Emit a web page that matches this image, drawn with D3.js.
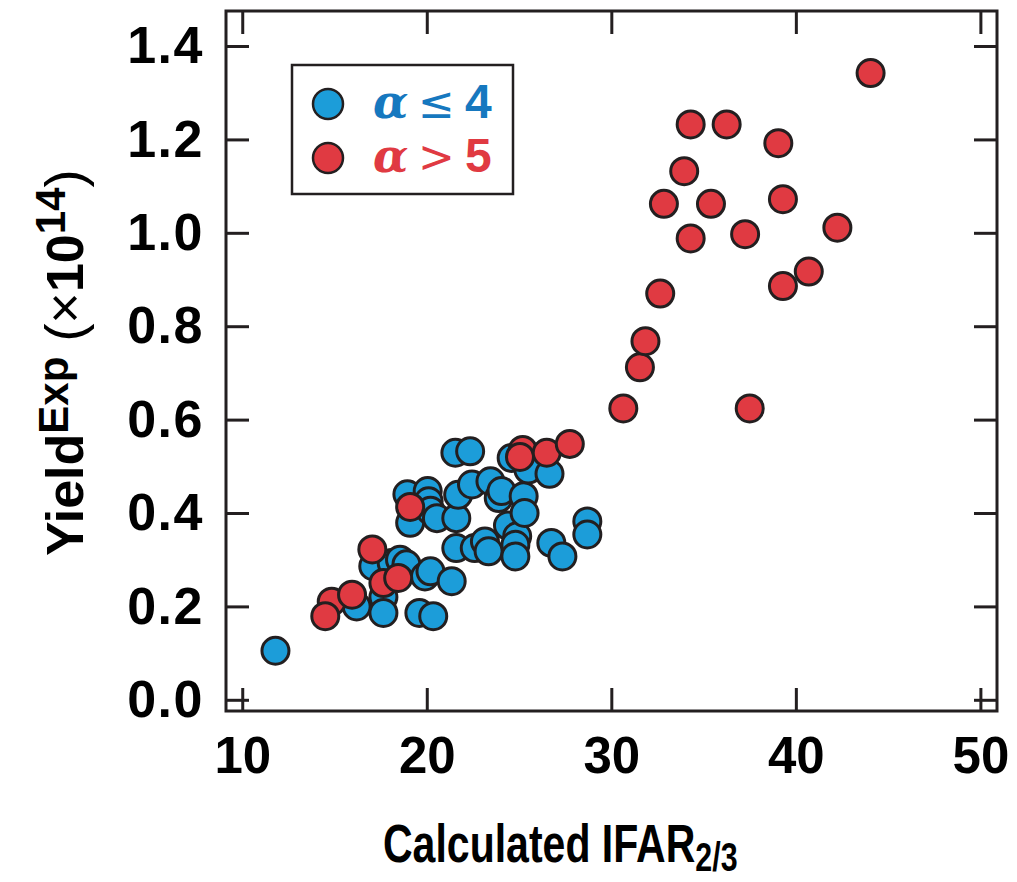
<!DOCTYPE html>
<html>
<head>
<meta charset="utf-8">
<script src="https://cdn.jsdelivr.net/npm/d3@7"></script>
<style>
  html, body { margin: 0; padding: 0; background: #fff; }
  svg { display: block; font-family: "Liberation Sans", Arial, sans-serif; }
</style>
</head>
<body>
<svg id="chart" width="1017" height="882"></svg>
<script>
// ---- data -------------------------------------------------------------
// alpha <= 4 group: [IFAR_2/3, Yield (x1e14)]
const lowAlpha = [
  [11.8, 0.105], [16.2, 0.200], [17.1, 0.286], [17.65, 0.220], [17.65, 0.186],
  [18.1, 0.293], [18.55, 0.300], [18.9, 0.290], [18.95, 0.440], [19.1, 0.379],
  [19.6, 0.186], [19.9, 0.264], [20.05, 0.447], [20.1, 0.425], [20.2, 0.275],
  [20.2, 0.405], [20.35, 0.179], [20.55, 0.389], [21.35, 0.254], [21.55, 0.529],
  [21.6, 0.389], [21.6, 0.325], [21.7, 0.439], [22.35, 0.532], [22.45, 0.461],
  [22.6, 0.325], [23.15, 0.339], [23.35, 0.318], [23.45, 0.468], [23.9, 0.432],
  [24.05, 0.447], [24.4, 0.373], [24.6, 0.518], [24.9, 0.350], [24.8, 0.332],
  [24.8, 0.307], [25.25, 0.436], [25.3, 0.400], [25.5, 0.493], [26.65, 0.484],
  [26.75, 0.336], [27.35, 0.307], [28.7, 0.382], [28.7, 0.354]
];
// alpha > 5 group
const highAlpha = [
  [14.85, 0.210], [14.5, 0.179], [15.95, 0.225], [17.05, 0.322], [17.65, 0.250],
  [18.45, 0.261], [19.1, 0.413], [25.2, 0.535], [25.05, 0.520], [26.5, 0.529],
  [27.75, 0.548], [30.65, 0.624], [31.55, 0.712], [31.85, 0.768], [32.65, 0.870],
  [32.85, 1.062], [33.95, 1.132], [34.3, 1.232], [34.3, 0.988], [35.4, 1.062],
  [36.25, 1.232], [37.25, 0.997], [37.5, 0.624], [39.05, 1.192], [39.3, 1.072],
  [39.3, 0.886], [40.7, 0.917], [42.25, 1.011], [44.05, 1.342]
];
const xTicks = [10, 20, 30, 40, 50];
const yTicks = [0, 0.2, 0.4, 0.6, 0.8, 1.0, 1.2, 1.4];
const legendItems = [
  { name: "low",  symbol: "\u2264", value: "4" },
  { name: "high", symbol: ">",      value: "5" }
];

// ---- styling ----------------------------------------------------------
const INK = "#231f20";
const fill = { low: "#1c9dd9", high: "#e03a42" };
const textFill = { low: "#1678bf", high: "#e03a42" };

const svg = d3.select("#chart");
const frame = { left: 226, right: 997, top: 11, bottom: 711 };

const x = d3.scaleLinear().domain([9.12, 50.9]).range([frame.left, frame.right]);
const y = d3.scaleLinear().domain([-0.024, 1.475]).range([frame.bottom, frame.top]);

// ---- axes (ticks point inward on all four sides) -------------------------
const TICK = 23;
function styleAxis(g) {
  g.select(".domain").remove();
  g.selectAll(".tick line").attr("stroke", INK).attr("stroke-width", 3);
  g.selectAll(".tick text")
    .attr("fill", "#000")
    .attr("font-size", 51)
    .attr("font-weight", "bold");
}

svg.append("g")
  .attr("transform", `translate(0,${frame.bottom})`)
  .call(d3.axisBottom(x).tickValues(xTicks).tickSize(-TICK).tickPadding(26).tickFormat(d3.format("d")))
  .call(styleAxis);

svg.append("g")
  .attr("transform", `translate(0,${frame.top})`)
  .call(d3.axisTop(x).tickValues(xTicks).tickSize(-TICK).tickFormat(""))
  .call(styleAxis);

svg.append("g")
  .attr("transform", `translate(${frame.left},0)`)
  .call(d3.axisLeft(y).tickValues(yTicks).tickSize(-TICK).tickPadding(22).tickFormat(d3.format(".1f")))
  .call(styleAxis)
  .call(g => g.selectAll(".tick text").attr("font-size", 52).attr("letter-spacing", 1.5));

svg.append("g")
  .attr("transform", `translate(${frame.right},0)`)
  .call(d3.axisRight(y).tickValues(yTicks).tickSize(-TICK).tickFormat(""))
  .call(styleAxis);

// plot frame
svg.append("rect")
  .attr("x", frame.left).attr("y", frame.top)
  .attr("width", frame.right - frame.left).attr("height", frame.bottom - frame.top)
  .attr("fill", "none").attr("stroke", INK).attr("stroke-width", 3);

// ---- points -------------------------------------------------------------
function drawPoints(data, key) {
  svg.append("g").selectAll("circle")
    .data(data)
    .join("circle")
    .attr("cx", d => x(d[0]))
    .attr("cy", d => y(d[1]))
    .attr("r", 13.5)
    .attr("fill", fill[key])
    .attr("stroke", INK)
    .attr("stroke-width", 3);
}
drawPoints(lowAlpha, "low");
drawPoints(highAlpha, "high");

// ---- legend -------------------------------------------------------------
const legend = svg.append("g");
legend.append("rect")
  .attr("x", 292).attr("y", 65).attr("width", 221).attr("height", 129)
  .attr("fill", "#fff").attr("stroke", INK).attr("stroke-width", 2.5);

legendItems.forEach((it, i) => {
  const cy = 104 + i * 54;
  legend.append("circle")
    .attr("cx", 328).attr("cy", cy).attr("r", 15)
    .attr("fill", fill[it.name]).attr("stroke", INK).attr("stroke-width", 2.5);
  const t = legend.append("text")
    .attr("x", 373).attr("y", cy + 14)
    .attr("fill", textFill[it.name])
    .attr("font-size", 48);
  t.append("tspan").attr("font-style", "italic").attr("font-weight", "bold")
    .attr("font-family", "DejaVu Serif, serif").attr("font-size", 46).text("\u03b1");
  t.append("tspan").attr("x", 418).attr("font-family", "DejaVu Sans, sans-serif")
    .attr("font-size", 44).text(it.symbol);
  t.append("tspan").attr("x", 465).attr("font-weight", "bold").text(it.value);
});

// ---- axis titles ------------------------------------------------------------
const xt = svg.append("g")
  .attr("transform", "translate(383,862) scale(0.76,1)")
  .append("text")
  .attr("font-size", 54).attr("font-weight", "bold").attr("fill", "#000");
xt.append("tspan").text("Calculated IFAR");
xt.append("tspan").attr("font-size", 40).attr("dy", 9).text("2/3");

const yt = svg.append("text")
  .attr("transform", "translate(83,556) rotate(-90)")
  .attr("fill", "#000");
yt.append("tspan").attr("font-size", 52).attr("font-weight", "bold").text("Yield");
yt.append("tspan").attr("font-size", 42).attr("font-weight", "bold").attr("dy", -15).text("Exp");
yt.append("tspan").attr("font-size", 54).attr("dy", 15).text(" (\u00d7");
yt.append("tspan").attr("font-size", 52).attr("font-weight", "bold").text("10");
yt.append("tspan").attr("font-size", 42).attr("font-weight", "bold").attr("dy", -18).text("14");
yt.append("tspan").attr("font-size", 54).attr("dy", 18).text(")");
</script>
</body>
</html>
